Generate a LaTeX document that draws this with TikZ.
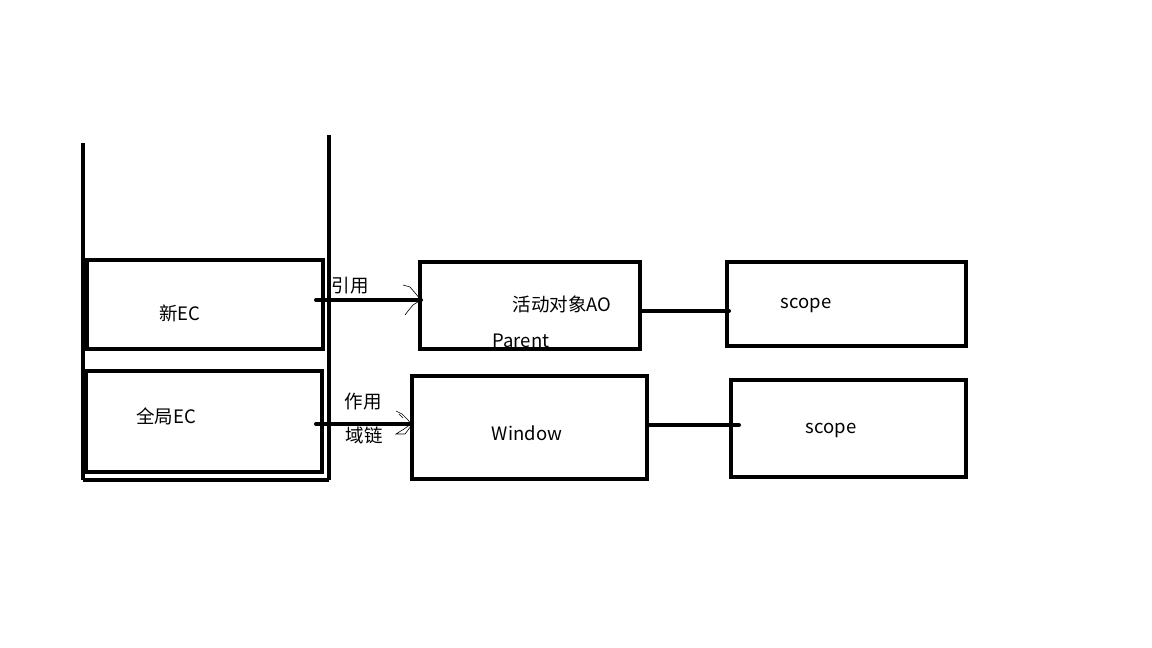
\documentclass[tikz,border=0pt]{standalone}
\usepackage{fontspec}
\setmainfont{Noto Sans CJK SC}
\begin{document}
\begin{tikzpicture}[x=1pt,y=-1pt,
  box/.style={draw=black,line width=4pt},
  lbl/.style={font=\fontsize{18.5}{20}\selectfont,inner sep=0pt},
  conn/.style={line width=4pt,line cap=round},
  tipline/.style={line width=0.6pt}]
\useasboundingbox[fill=white] (0,0) rectangle (1152,648);
% stack container
\coordinate (cl1) at (83,143);
\coordinate (cl2) at (83,480);
\coordinate (cr1) at (329,135);
\coordinate (cr2) at (329,480);
\draw[line width=4pt] (cl1) -- (cl2);
\draw[line width=4pt] (cr1) -- (cr2);
\draw[line width=4pt] (cl2) -- (cr2);
% EC boxes
\draw[box] (87,260) rectangle (323,349);
\node[lbl] (newec) at (180,313) {新EC};
\draw[box] (86,371) rectangle (322,472);
\node[lbl] (globalec) at (166,416) {全局EC};
% AO box
\draw[box] (420,262) rectangle (640,349);
\node[lbl] (ao) at (562,304) {活动对象AO};
\node[lbl] (parent) at (521,341) {Parent};
% scope 1
\draw[box] (727,262) rectangle (966,346);
\node[lbl] (scope1) at (806,305) {scope};
% Window
\draw[box] (412,376) rectangle (647,479);
\node[lbl] (window) at (527,433) {Window};
% scope 2
\draw[box] (731,380) rectangle (966,477);
\node[lbl] (scope2) at (831,430) {scope};
% arrow 1
\coordinate (a1s) at (316,300);
\coordinate (a1e) at (421,300);
\draw[conn] (a1s) -- (a1e);
\draw[tipline] (403,285) -- (410,287) -- (416,294) -- (421,300) -- (413,305) -- (408,311) -- (405,315);
\node[lbl] (yinyong) at (350,286) {引用};
% line AO - scope
\coordinate (l1s) at (640,311);
\coordinate (l1e) at (729,311);
\draw[conn] (l1s) -- (l1e);
% arrow 2
\coordinate (a2s) at (316,424);
\coordinate (a2e) at (411,424);
\draw[conn] (a2s) -- (a2e);
\draw[tipline] (396,411) -- (402,414) -- (408,420) -- (411,424) -- (404,429) -- (396,434) -- (405,434) -- (411,426);
\draw[tipline] (399,414) -- (403,418);
\node[lbl] (zuoyong) at (363,402) {作用};
\node[lbl] (yulian) at (364,435) {域链};
% line Window - scope
\coordinate (l2s) at (647,425);
\coordinate (l2e) at (739,425);
\draw[conn] (l2s) -- (l2e);
\end{tikzpicture}
\end{document}
